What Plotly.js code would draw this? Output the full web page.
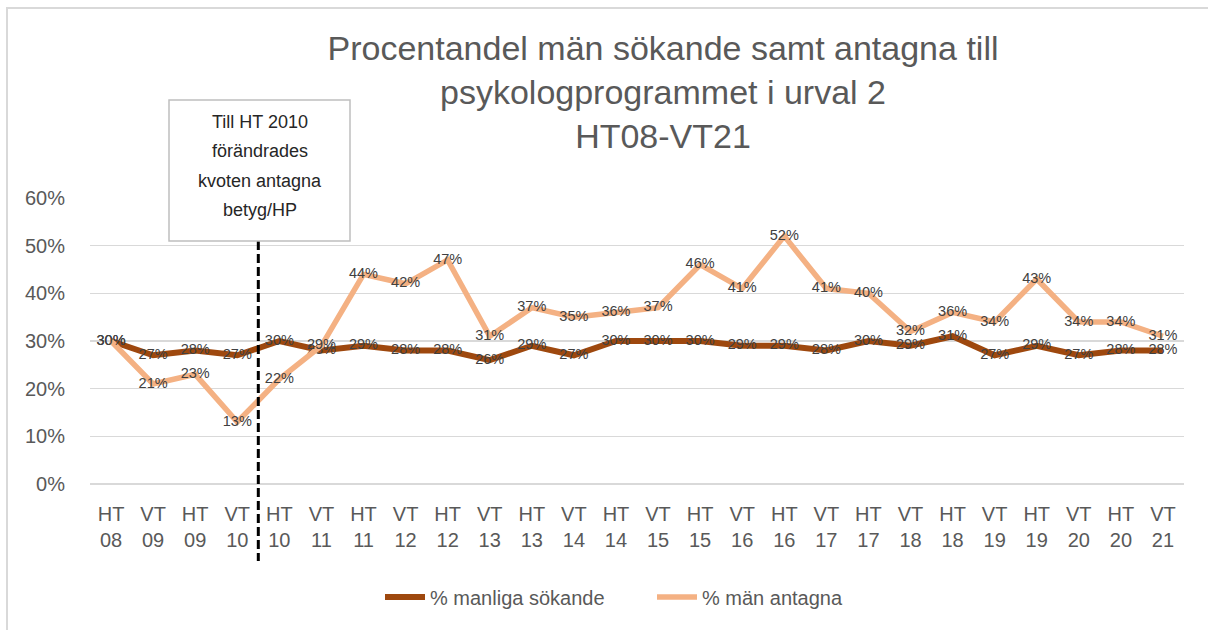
<!DOCTYPE html>
<html>
<head>
<meta charset="utf-8">
<script src="https://cdn.plot.ly/plotly-3.0.1.min.js"></script>
<style>
  html, body { margin: 0; padding: 0; background: #fff; }
  #wrap { position: relative; width: 1208px; height: 630px; overflow: hidden; }
  #chart { width: 1208px; height: 630px; }
  #frame { position: absolute; left: 6px; top: 7px; width: 1210px; height: 640px;
           border-left: 2px solid #d9d9d9; border-top: 2px solid #d9d9d9; pointer-events: none; }
</style>
</head>
<body>
<div id="wrap">
  <div id="chart"></div>
  <div id="frame"></div>
</div>
<script>
// ---- Data ----
const terms = ["HT","VT","HT","VT","HT","VT","HT","VT","HT","VT","HT","VT","HT","VT","HT","VT","HT","VT","HT","VT","HT","VT","HT","VT","HT","VT"];
const years = ["08","09","09","10","10","11","11","12","12","13","13","14","14","15","15","16","16","17","17","18","18","19","19","20","20","21"];
const manligaSokande = [0.30,0.27,0.28,0.27,0.30,0.28,0.29,0.28,0.28,0.26,0.29,0.27,0.30,0.30,0.30,0.29,0.29,0.28,0.30,0.29,0.31,0.27,0.29,0.27,0.28,0.28];
const manAntagna     = [0.30,0.21,0.23,0.13,0.22,0.29,0.44,0.42,0.47,0.31,0.37,0.35,0.36,0.37,0.46,0.41,0.52,0.41,0.40,0.32,0.36,0.34,0.43,0.34,0.34,0.31];
const seriesNames = ["% manliga sökande", "% män antagna"];
const titleLines = ["Procentandel män sökande samt antagna till", "psykologprogrammet i urval 2", "HT08-VT21"];
const noteLines = ["Till HT 2010", "förändrades", "kvoten antagna", "betyg/HP"];
const changeIndex = 3.5; // between VT 10 and HT 10

const categories = terms.map((t, i) => t + "<br>" + years[i]);
const xIdx = categories.map((_, i) => i);

// ---- Layout geometry ----
const W = 1208, H = 630;
const M = { l: 90, r: 24, t: 198, b: 146 };
const PW = W - M.l - M.r, PH = H - M.t - M.b;
const px = X => (X - M.l) / PW;      // pixel -> paper x
const py = Y => (H - M.b - Y) / PH;  // pixel -> paper y

const FONT = "Liberation Sans, Arial, sans-serif";

const traces = [
  {
    x: xIdx, y: manligaSokande, name: seriesNames[0],
    type: "scatter", mode: "lines+text",
    line: { color: "#9E480E", width: 6 },
    text: manligaSokande.map(v => Math.round(v * 100) + "%"),
    textposition: "middle center",
    textfont: { family: FONT, size: 14.5, color: "#404040" },
    hoverinfo: "skip", cliponaxis: false
  },
  {
    x: xIdx, y: manAntagna, name: seriesNames[1],
    type: "scatter", mode: "lines+text",
    line: { color: "#F4B183", width: 5.5 },
    text: manAntagna.map(v => Math.round(v * 100) + "%"),
    textposition: "middle center",
    textfont: { family: FONT, size: 14.5, color: "#404040" },
    hoverinfo: "skip", cliponaxis: false
  }
];

const xChange = (changeIndex + 0.5) / categories.length;

const annotations = [];
const noteCenterX = 259.5;
noteLines.forEach((t, i) => {
  annotations.push({
    xref: "paper", yref: "paper",
    x: px(noteCenterX), y: py(122 + i * 29.3),
    xanchor: "center", yanchor: "middle",
    text: t, showarrow: false,
    font: { family: FONT, size: 18, color: "#262626" }
  });
});

const shapes = [
  { type: "line", xref: "paper", yref: "paper",
    x0: xChange, x1: xChange, y0: py(241), y1: py(561),
    line: { color: "#000000", width: 3, dash: "9px,4px" } },
  { type: "rect", xref: "paper", yref: "paper",
    x0: px(169), x1: px(350), y0: py(241), y1: py(100),
    line: { color: "#bfbfbf", width: 1.5 }, fillcolor: "rgba(255,255,255,1)" }
];

const layout = {
  width: W, height: H,
  margin: M,
  paper_bgcolor: "#ffffff", plot_bgcolor: "#ffffff",
  font: { family: FONT, color: "#595959" },
  title: {
    text: titleLines.join("<br>"),
    font: { family: FONT, size: 34, color: "#595959" },
    x: 663 / W, xanchor: "center",
    y: 1 - 60 / H, yanchor: "top", yref: "container"
  },
  xaxis: {
    range: [-0.5, categories.length - 0.5],
    tickmode: "array", tickvals: xIdx, ticktext: categories,
    showgrid: false, zeroline: false, showline: false,
    ticks: "", ticklabelstandoff: 16,
    tickfont: { family: FONT, size: 20, color: "#595959" },
    fixedrange: true
  },
  yaxis: {
    range: [0, 0.6], dtick: 0.1, tick0: 0, tickformat: ".0%",
    showgrid: true, gridcolor: "#d9d9d9", gridwidth: 1.5,
    zeroline: true, zerolinecolor: "#d9d9d9", zerolinewidth: 1.5,
    showline: false, ticks: "", ticklabelstandoff: 24,
    tickfont: { family: FONT, size: 20, color: "#595959" },
    fixedrange: true
  },
  showlegend: true,
  legend: {
    orientation: "h",
    x: px(380), xanchor: "left",
    y: py(597), yanchor: "middle",
    font: { family: FONT, size: 20, color: "#595959" },
    itemwidth: 40, traceorder: "normal",
    entrywidth: 217, entrywidthmode: "pixels"
  },
  annotations: annotations,
  shapes: shapes
};

Plotly.newPlot("chart", traces, layout, { displayModeBar: false, staticPlot: true });
</script>
</body>
</html>
